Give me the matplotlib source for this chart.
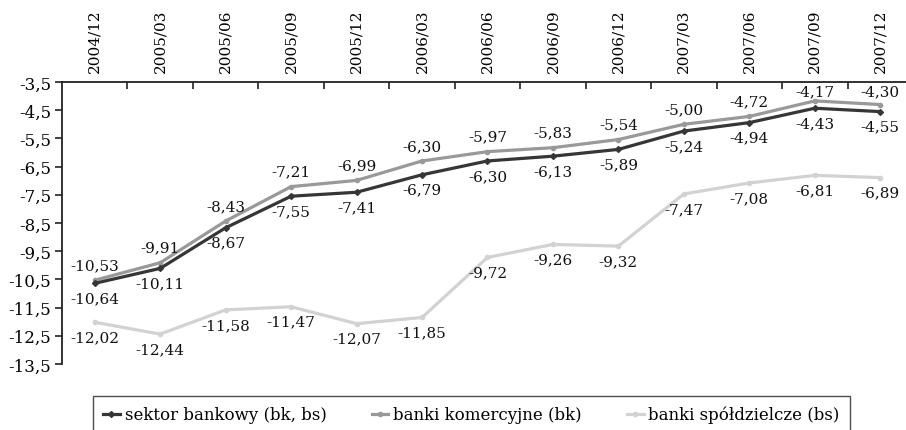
import matplotlib
matplotlib.use("Agg")
import matplotlib.pyplot as plt
from matplotlib.ticker import FixedLocator, FuncFormatter

plt.rcParams['font.family'] = ['DejaVu Serif']
plt.rcParams['font.size'] = 11

quarters = ["2004/12", "2005/03", "2005/06", "2005/09", "2005/12", "2006/03",
            "2006/06", "2006/09", "2006/12", "2007/03", "2007/06", "2007/09",
            "2007/12"]
sektor = [-10.64, -10.11, -8.67, -7.55, -7.41, -6.79, -6.30, -6.13, -5.89,
          -5.24, -4.94, -4.43, -4.55]
komercyjne = [-10.53, -9.91, -8.43, -7.21, -6.99, -6.30, -5.97, -5.83, -5.54,
              -5.00, -4.72, -4.17, -4.30]
spoldzielcze = [-12.02, -12.44, -11.58, -11.47, -12.07, -11.85, -9.72, -9.26,
                -9.32, -7.47, -7.08, -6.81, -6.89]
y_ticks = [-3.5, -4.5, -5.5, -6.5, -7.5, -8.5, -9.5, -10.5, -11.5, -12.5, -13.5]

series = [
    ("banki spółdzielcze (bs)", spoldzielcze, "#d2d2d2", "o", 3.0, -15),
    ("banki komercyjne (bk)", komercyjne, "#999999", "o", 3.0, 15),
    ("sektor bankowy (bk, bs)", sektor, "#363636", "D", 3.0, -15),
]

Y_MIN, Y_MAX = -13.5, -3.5
AX_H_PX = 282

fig = plt.figure(figsize=(9.06, 4.31), dpi=100)
ax = fig.add_axes([62 / 906, 1 - 365 / 431, 851 / 906, AX_H_PX / 431])

x = list(range(len(quarters)))
handles = {}
for name, vals, color, marker, msize, dy in series:
    ln, = ax.plot(x, vals, color=color, lw=2.3, marker=marker, ms=msize,
                  solid_joinstyle='round', label=name, clip_on=False)
    handles[name] = ln
    for xi, v in zip(x, vals):
        off = dy
        if dy > 0:
            # keep labels above a point from running into the top axis line
            room = (Y_MAX - v) / (Y_MAX - Y_MIN) * AX_H_PX - 9
            off = min(dy, room)
        ax.annotate(f"{v:.2f}".replace(".", ","), (xi, v),
                    xytext=(0, off), textcoords='offset pixels',
                    ha='center', va='center', fontsize=11, color='#111111')

ax.set_xlim(-0.5, len(quarters) - 0.5)
ax.set_ylim(Y_MIN, Y_MAX)

# category axis along the top edge
ax.xaxis.set_ticks_position('top')
ax.xaxis.set_major_locator(FixedLocator(x))
ax.set_xticklabels(quarters, rotation=90)
ax.xaxis.set_minor_locator(FixedLocator([i + 0.5 for i in range(len(quarters))]))
ax.tick_params(axis='x', which='major', length=0, pad=7, labelsize=11)
ax.tick_params(axis='x', which='minor', direction='in', length=5, width=1.2,
               color='#222222')

ax.yaxis.set_major_locator(FixedLocator(y_ticks))
ax.yaxis.set_major_formatter(FuncFormatter(lambda v, p: f"{v:.1f}".replace(".", ",")))
ax.tick_params(axis='y', direction='out', length=5, width=1.2, color='#222222',
               pad=3, labelsize=12)

for side in ('bottom', 'right'):
    ax.spines[side].set_visible(False)
for side in ('top', 'left'):
    ax.spines[side].set_linewidth(1.3)
    ax.spines[side].set_color('#222222')

order = ["sektor bankowy (bk, bs)", "banki komercyjne (bk)", "banki spółdzielcze (bs)"]
leg = fig.legend([handles[n] for n in order], order, ncol=3,
                 loc='upper left', bbox_to_anchor=(93 / 906, 1 - 397 / 431),
                 borderaxespad=0, frameon=True, fancybox=False,
                 edgecolor='#222222', handlelength=1.0, handletextpad=0.3,
                 columnspacing=2.7, borderpad=0.6,
                 prop={'family': 'DejaVu Serif', 'size': 12})
leg.get_frame().set_linewidth(1.0)

fig.savefig("out.png", dpi=100)
